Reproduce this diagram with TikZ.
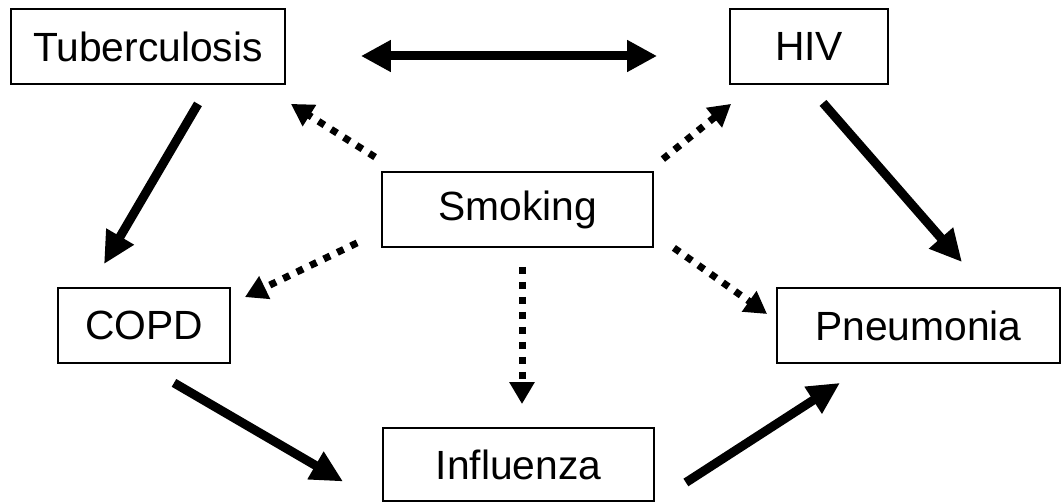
\documentclass[tikz,border=0pt]{standalone}
\usepackage{fontspec}
\setmainfont{Liberation Sans}
\usepackage{tikz}
\usetikzlibrary{arrows.meta}

\begin{document}
\begin{tikzpicture}[
  x=1pt, y=-1pt,
  font=\fontsize{40.8pt}{48pt}\selectfont,
  box/.style={draw, line width=1.8pt, minimum height=75pt, inner sep=0pt, align=center},
  cause/.style={line width=9pt, -{Triangle[length=32pt,width=30pt]}},
  both/.style={line width=9pt, {Triangle[length=30pt,width=30pt]}-{Triangle[length=30pt,width=30pt]}},
  risk/.style={line width=7pt, dash pattern=on 7pt off 8pt, -{Triangle[length=22pt,width=24pt]}}
]
\useasboundingbox (0,0) rectangle (1061,502);

\node[box, minimum width=274pt] (tb) at (148,46.5) {Tuberculosis};
\node[box, minimum width=158pt] (hiv) at (809,46.5) {HIV};
\node[box, minimum width=271pt] (smk) at (517.5,209.5) {Smoking};
\node[box, minimum width=172pt] (copd) at (144,325.5) {COPD};
\node[box, minimum width=283pt] (pneu) at (918.5,325.5) {Pneumonia};
\node[box, minimum width=271pt, minimum height=73pt] (flu) at (518.5,464.5) {Influenza};

% disease links
\draw[both] ([shift={(75,9.5)}]tb.east) -- ([shift={(-72,9.5)}]hiv.west);
\draw[cause] ([shift={(50,19)}]tb.south) -- ([shift={(-40,-23)}]copd.north);
\draw[cause] ([shift={(14,18)}]hiv.south) -- ([shift={(43.5,-25)}]pneu.north);
\draw[cause] ([shift={(30,19)}]copd.south) -- ([shift={(-39,17)}]flu.west);
\draw[cause] ([shift={(31,18)}]flu.east) -- ([shift={(-78.5,19)}]pneu.south);

% smoking as risk factor
\draw[risk] ([shift={(-6,-14)}]smk.north west) -- ([shift={(5,19)}]tb.south east);
\draw[risk] ([shift={(9,-12)}]smk.north east) -- ([shift={(2,19)}]hiv.south west);
\draw[risk] ([shift={(-24,-5)}]smk.south west) -- ([shift={(14,10)}]copd.north east);
\draw[risk] ([shift={(4.5,19)}]smk.south) -- ([shift={(3.5,-23)}]flu.north);
\draw[risk] ([shift={(20,0)}]smk.south east) -- ([shift={(-9,-11.5)}]pneu.west);
\end{tikzpicture}
\end{document}
